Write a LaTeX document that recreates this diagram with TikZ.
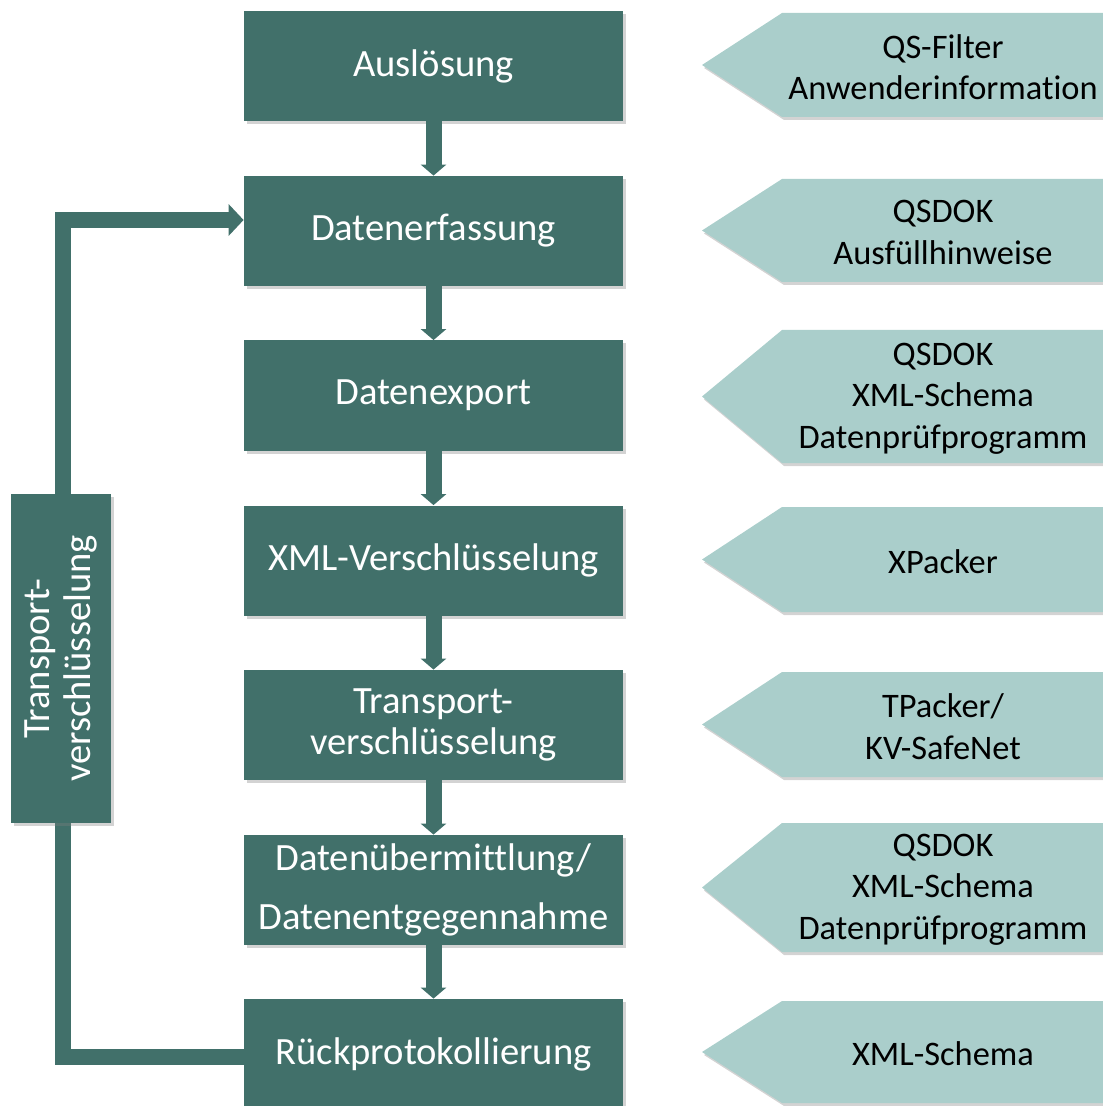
\documentclass[tikz,border=0pt]{standalone}
\usepackage{fontspec}
\setmainfont{Carlito}[Ligatures=NoCommon]
\usepackage{tikz}
\usetikzlibrary{arrows.meta,shadows}
\definecolor{boxteal}{RGB}{65,112,106}
\definecolor{tagteal}{RGB}{170,206,203}

\begin{document}
\begin{tikzpicture}[x=0.5pt,y=-0.5pt,
  stepbox/.style={fill=boxteal, text=white, align=center, inner sep=0pt,
    minimum width=189.5pt, minimum height=55pt,
    font=\fontsize{19.3}{20.5}\selectfont,
    drop shadow={shadow xshift=1.5pt, shadow yshift=-1.5pt, opacity=0.35}},
  flow/.style={draw=boxteal, line width=8pt, -{Triangle[width=12.5pt,length=5.5pt]}},
  loopflow/.style={draw=boxteal, line width=8pt, -{Triangle[width=15.5pt,length=7.5pt]}},
  tag/.style={fill=tagteal, drop shadow={shadow xshift=1pt, shadow yshift=-1.5pt, opacity=0.35}},
  tagtext/.style={align=center, text=black, font=\fontsize{17.2}{20.75}\selectfont}]
\useasboundingbox (0,0) rectangle (1102,1106);

% process steps
\node[stepbox] (ausl) at (433.5,66) {Auslösung};
\node[stepbox] (erf) at (433.5,231) {Datenerfassung};
\node[stepbox] (exp) at (433.5,395.5) {Datenexport};
\node[stepbox] (xmlv) at (433.5,560.5) {XML-Verschlüsselung};
\node[stepbox] (trv) at (433.5,725) {Transport-\\verschlüsselung};
\node[stepbox, font=\fontsize{19.3}{29.5}\selectfont] (uebm) at (433.5,890) {Datenübermittlung/\\Datenentgegennahme};
\node[stepbox] (rueck) at (433.5,1054) {Rückprotokollierung};

\draw[flow] (ausl) -- (erf);
\draw[flow] (erf) -- (exp);
\draw[flow] (exp) -- (xmlv);
\draw[flow] (xmlv) -- (trv);
\draw[flow] (trv) -- (uebm);
\draw[flow] (uebm) -- (rueck);

% loop back
\coordinate (turn) at (63,1057);
\draw[loopflow] ([yshift=-1.5pt]rueck.west) -- (turn) |- ([yshift=5.5pt]erf.west);
\node[stepbox, rotate=90, minimum width=164.5pt, minimum height=50pt] (tvs) at (61,658.5) {Transport-\\verschlüsselung};

% tools
\foreach \yc/\hh/\nm/\txt in {65/52/tagA/{QS-Filter\\Anwenderinformation},
    230.5/51.5/tagB/{QSDOK\\Ausfüllhinweise},
    396.5/66.5/tagC/{QSDOK\\XML-Schema\\Datenprüfprogramm},
    559.5/52.5/tagD/{XPacker},
    724.5/52.5/tagE/{TPacker/\\KV-SafeNet},
    887.5/64.5/tagF/{QSDOK\\XML-Schema\\Datenprüfprogramm},
    1052/51/tagG/{XML-Schema}}{
  \path[tag] (702,\yc) -- (782,\yc-\hh) -- (1115,\yc-\hh) -- (1115,\yc+\hh) -- (782,\yc+\hh) -- cycle;
  \node[tagtext] (\nm) at (943,\yc+2) {\txt};
}
\end{tikzpicture}
\end{document}
